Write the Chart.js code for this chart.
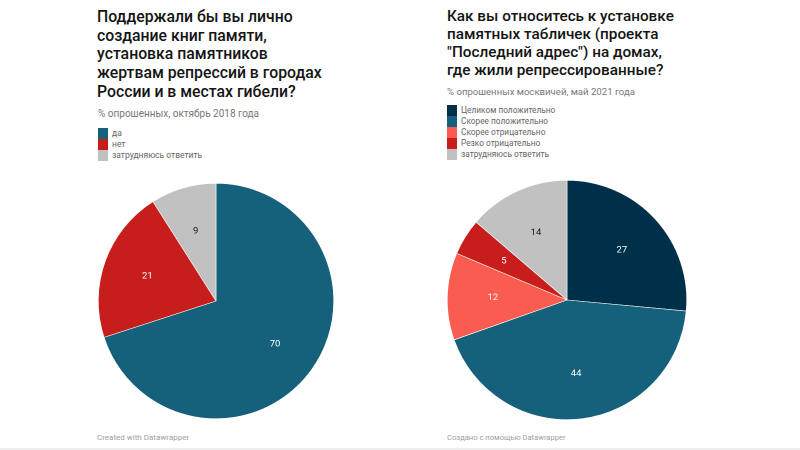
<!DOCTYPE html>
<html lang="ru"><head><meta charset="utf-8">
<script src="https://cdn.jsdelivr.net/npm/chart.js@4/dist/chart.umd.min.js"></script>
<style>
html,body{margin:0;padding:0;background:#fff;width:800px;height:450px;overflow:hidden;font-family:Roboto,sans-serif}
.t{position:absolute;white-space:pre;color:#141414;font-weight:500;font-size:15.8px;line-height:18.7px}
.s{position:absolute;white-space:pre;color:#777;font-size:9.6px;line-height:12px}
.l{position:absolute;font-size:8.5px;color:#666;white-space:pre}
.l div{height:11.1px;line-height:11.1px;position:relative;padding-left:14px}
.l i{position:absolute;left:0;top:0;width:10px;height:11.1px}
.f{position:absolute;color:#a0a0a0;font-size:8px;white-space:pre}
canvas{position:absolute}
.band{position:absolute;left:0;right:0;bottom:0;height:2px;background:#eeeeee}
</style></head><body>
<div class="t" id="t1" style="left:97px;top:8px"></div>
<div class="s" id="s1" style="left:98px;top:108px;font-size:10px"></div>
<div class="l" id="l1" style="left:98px;top:128px"></div>
<div class="t" id="t2" style="left:447px;top:7px;line-height:18px;font-size:15.3px"></div>
<div class="s" id="s2" style="left:447px;top:86px"></div>
<div class="l" id="l2" style="left:447px;top:105px;font-size:8.3px"></div>
<canvas id="c1" style="left:90px;top:175px;width:252px;height:252px"></canvas>
<canvas id="c2" style="left:441px;top:174px;width:252px;height:252px"></canvas>
<div class="f" style="left:97px;top:433px">Created with Datawrapper</div>
<div class="f" style="left:447px;top:433px;font-size:7.6px">Создано с помощью Datawrapper</div>
<div class="band"></div>
<script>
const title1 = "Поддержали бы вы лично\nсоздание книг памяти,\nустановка памятников\nжертвам репрессий в городах\nРоссии и в местах гибели?";
const subtitle1 = "% опрошенных, октябрь 2018 года";
const categories1 = ["да", "нет", "затрудняюсь ответить"];
const values1 = [70, 21, 9];
const colors1 = ["#15607a", "#c71e1d", "#c1c1c1"];
const labelColors1 = ["#ffffff", "#ffffff", "#1a1a1a"];

const title2 = "Как вы относитесь к установке\nпамятных табличек (проекта\n\"Последний адрес\") на домах,\nгде жили репрессированные?";
const subtitle2 = "% опрошенных москвичей, май 2021 года";
const categories2 = ["Целиком положительно", "Скорее положительно", "Скорее отрицательно", "Резко отрицательно", "затрудняюсь ответить"];
const values2 = [27, 44, 12, 5, 14];
const colors2 = ["#003049", "#15607a", "#fa5c4f", "#c71e1d", "#c1c1c1"];
const labelColors2 = ["#ffffff", "#ffffff", "#ffffff", "#ffffff", "#1a1a1a"];

function fillText(id, titleText, sid, subtitleText, lid, cats, cols) {
  document.getElementById(id).textContent = titleText;
  document.getElementById(sid).textContent = subtitleText;
  const leg = document.getElementById(lid);
  cats.forEach((c, i) => {
    const d = document.createElement("div");
    const sw = document.createElement("i");
    sw.style.background = cols[i];
    d.appendChild(sw);
    d.appendChild(document.createTextNode(c));
    leg.appendChild(d);
  });
}
fillText("t1", title1, "s1", subtitle1, "l1", categories1, colors1);
fillText("t2", title2, "s2", subtitle2, "l2", categories2, colors2);

const sliceLabels = {
  id: "sliceLabels",
  afterDatasetsDraw(chart, args, opts) {
    const ctx = chart.ctx;
    const ds = chart.data.datasets[0];
    chart.getDatasetMeta(0).data.forEach((arc, i) => {
      const p = arc.getProps(["x", "y", "startAngle", "endAngle", "outerRadius"], true);
      const a = (p.startAngle + p.endAngle) / 2;
      ctx.save();
      ctx.font = "9.5px Roboto, sans-serif";
      ctx.fillStyle = opts.colors[i];
      ctx.textAlign = "center";
      ctx.textBaseline = "middle";
      ctx.fillText(String(ds.data[i]), p.x + Math.cos(a) * p.outerRadius * 0.62, p.y + Math.sin(a) * p.outerRadius * 0.62);
      ctx.restore();
    });
  }
};

function makePie(id, cats, vals, cols, labCols, pad) {
  new Chart(document.getElementById(id), {
    type: "pie",
    data: { labels: cats, datasets: [{ data: vals, backgroundColor: cols, borderColor: "#ffffff", borderWidth: 0.6 }] },
    options: {
      responsive: false, animation: false, devicePixelRatio: 2,
      layout: { padding: pad },
      plugins: { legend: { display: false }, tooltip: { enabled: false }, sliceLabels: { colors: labCols } }
    },
    plugins: [sliceLabels]
  });
}
const c1 = document.getElementById("c1"); c1.width = 252; c1.height = 252;
const c2 = document.getElementById("c2"); c2.width = 252; c2.height = 252;
makePie("c1", categories1, values1, colors1, labelColors1, 8);
makePie("c2", categories2, values2, colors2, labelColors2, 6);
</script>
</body></html>
